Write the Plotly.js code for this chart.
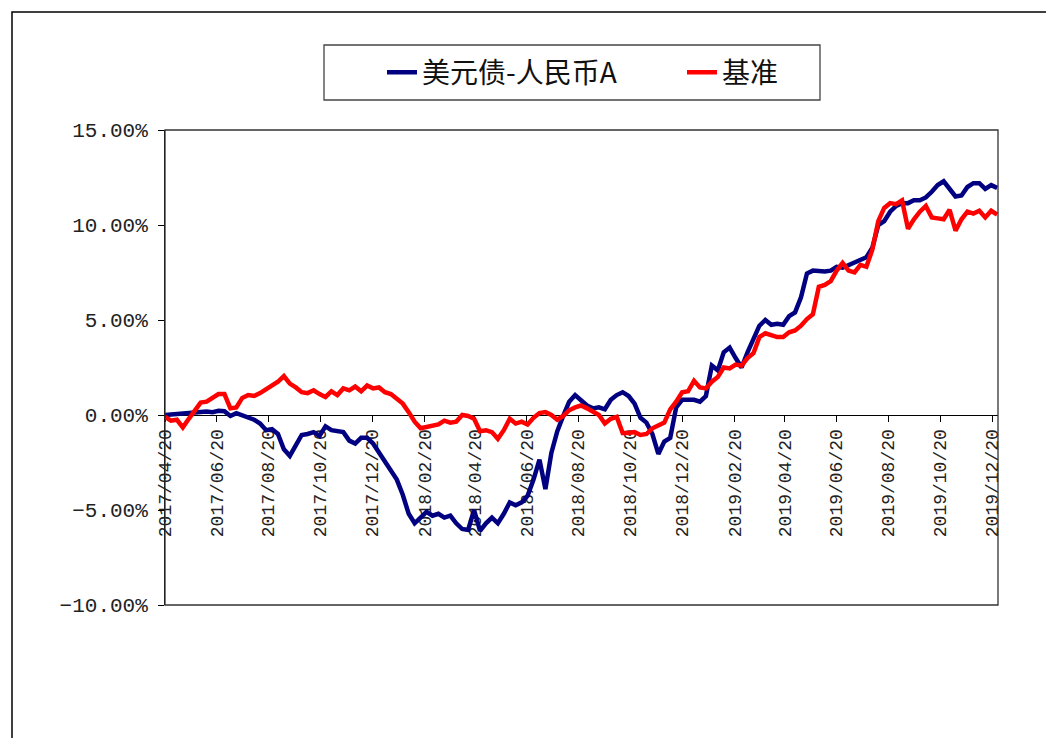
<!DOCTYPE html>
<html>
<head>
<meta charset="utf-8">
<script src="https://cdn.plot.ly/plotly-3.0.1.min.js"></script>
<style>
html, body { margin: 0; padding: 0; background: #ffffff; }
#chart { width: 1046px; height: 738px; }
</style>
</head>
<body>
<div id="chart"></div>
<script>
// Weekly observation dates
const dates = [
  '2017-04-20','2017-04-27','2017-05-04','2017-05-11','2017-05-18','2017-05-25','2017-06-01','2017-06-08','2017-06-15','2017-06-22',
  '2017-06-29','2017-07-06','2017-07-13','2017-07-20','2017-07-27','2017-08-03','2017-08-10','2017-08-17','2017-08-24','2017-08-31',
  '2017-09-07','2017-09-14','2017-09-21','2017-09-28','2017-10-05','2017-10-12','2017-10-19','2017-10-26','2017-11-02','2017-11-09',
  '2017-11-16','2017-11-23','2017-11-30','2017-12-07','2017-12-14','2017-12-21','2017-12-28','2018-01-04','2018-01-11','2018-01-18',
  '2018-01-25','2018-02-01','2018-02-08','2018-02-15','2018-02-22','2018-03-01','2018-03-08','2018-03-15','2018-03-22','2018-03-29',
  '2018-04-05','2018-04-12','2018-04-19','2018-04-26','2018-05-03','2018-05-10','2018-05-17','2018-05-24','2018-05-31','2018-06-07',
  '2018-06-14','2018-06-21','2018-06-28','2018-07-05','2018-07-12','2018-07-19','2018-07-26','2018-08-02','2018-08-09','2018-08-16',
  '2018-08-23','2018-08-30','2018-09-06','2018-09-13','2018-09-20','2018-09-27','2018-10-04','2018-10-11','2018-10-18','2018-10-25',
  '2018-11-01','2018-11-08','2018-11-15','2018-11-22','2018-11-29','2018-12-06','2018-12-13','2018-12-20','2018-12-27','2019-01-03',
  '2019-01-10','2019-01-17','2019-01-24','2019-01-31','2019-02-07','2019-02-14','2019-02-21','2019-02-28','2019-03-07','2019-03-14',
  '2019-03-21','2019-03-28','2019-04-04','2019-04-11','2019-04-18','2019-04-25','2019-05-02','2019-05-09','2019-05-16','2019-05-23',
  '2019-05-30','2019-06-06','2019-06-13','2019-06-20','2019-06-27','2019-07-04','2019-07-11','2019-07-18','2019-07-25','2019-08-01',
  '2019-08-08','2019-08-15','2019-08-22','2019-08-29','2019-09-05','2019-09-12','2019-09-19','2019-09-26','2019-10-03','2019-10-10',
  '2019-10-17','2019-10-24','2019-10-31','2019-11-07','2019-11-14','2019-11-21','2019-11-28','2019-12-05','2019-12-12','2019-12-19',
  '2019-12-26'
];

// 美元债-人民币A cumulative return (%)
const usdBondCny = [
  0, 0.03, 0.07, 0.1, 0.12, 0.16, 0.19, 0.18, 0.15, 0.22,
  0.2, -0.05, 0.1, -0.03, -0.12, -0.25, -0.45, -0.8, -0.75, -1.0,
  -1.8, -2.15, -1.6, -1.05, -1.0, -0.9, -1.1, -0.6, -0.8, -0.85,
  -0.9, -1.35, -1.5, -1.2, -1.2, -1.5, -2.0, -2.45, -2.9, -3.4,
  -4.2, -5.2, -5.7, -5.4, -5.1, -5.3, -5.2, -5.4, -5.3, -5.7,
  -6.0, -6.05, -5.0, -6.1, -5.7, -5.4, -5.7, -5.2, -4.6, -4.75,
  -4.6, -4.25, -3.4, -2.35, -3.9, -2.0, -0.85, -0.05, 0.7, 1.05,
  0.75, 0.5, 0.35, 0.4, 0.3, 0.8, 1.05, 1.2, 1.0, 0.6,
  -0.15, -0.4, -1.0, -2.05, -1.4, -1.2, 0.4, 0.8, 0.8, 0.8,
  0.7, 1.0, 2.6, 2.35, 3.3, 3.55, 3.0, 2.5, 3.3, 4.0,
  4.7, 5.0, 4.75, 4.8, 4.75, 5.2, 5.4, 6.2, 7.45, 7.6,
  7.55, 7.55, 7.6, 7.8, 7.75, 7.9, 8.0, 8.15, 8.3, 8.8,
  10.0, 10.2, 10.7, 11.0, 11.15, 11.15, 11.3, 11.3, 11.45, 11.75,
  12.1, 12.3, 11.9, 11.5, 11.55, 12.0, 12.2, 12.2, 11.9, 12.1,
  11.95
];

// 基准 cumulative return (%)
const benchmark = [
  -0.1, -0.3, -0.25, -0.65, -0.2, 0.2, 0.65, 0.7, 0.9, 1.1,
  1.1, 0.35, 0.4, 0.9, 1.05, 1.0, 1.15, 1.35, 1.6, 1.75,
  2.05, 1.65, 1.45, 1.2, 1.15, 1.3, 1.1, 0.95, 1.25, 1.05,
  1.4, 1.3, 1.5, 1.25, 1.55, 1.4, 1.45, 1.2, 1.1, 0.85,
  0.6, 0.15, -0.35, -0.7, -0.65, -0.55, -0.5, -0.3, -0.4, -0.35,
  0.0, -0.05, -0.2, -0.85, -0.8, -0.9, -1.25, -0.8, -0.2, -0.45,
  -0.35, -0.5, -0.15, 0.1, 0.15, 0.0, -0.25, -0.05, 0.25, 0.4,
  0.5, 0.35, 0.15, 0.0, -0.45, -0.2, -0.1, -0.95, -0.95, -0.9,
  -1.05, -1.0, -0.7, -0.55, -0.4, 0.3, 0.7, 1.2, 1.25, 1.8,
  1.45, 1.4, 1.75, 2.0, 2.5, 2.45, 2.65, 2.6, 3.0, 3.25,
  4.1, 4.3, 4.2, 4.1, 4.1, 4.35, 4.45, 4.7, 5.05, 5.3,
  6.75, 6.85, 7.05, 7.6, 8.0, 7.6, 7.5, 7.9, 7.8, 8.7,
  10.2, 10.9, 11.15, 11.1, 11.3, 9.8, 10.3, 10.7, 11.0, 10.4,
  10.35, 10.3, 10.8, 9.7, 10.3, 10.7, 10.6, 10.75, 10.4, 10.75,
  10.55
];

const seriesNames = ['美元债-人民币A', '基准'];

const xTickDates = [
  '2017-04-20','2017-06-20','2017-08-20','2017-10-20','2017-12-20',
  '2018-02-20','2018-04-20','2018-06-20','2018-08-20','2018-10-20','2018-12-20',
  '2019-02-20','2019-04-20','2019-06-20','2019-08-20','2019-10-20','2019-12-20'
];
const xTickLabels = [
  '2017/04/20','2017/06/20','2017/08/20','2017/10/20','2017/12/20',
  '2018/02/20','2018/04/20','2018/06/20','2018/08/20','2018/10/20','2018/12/20',
  '2019/02/20','2019/04/20','2019/06/20','2019/08/20','2019/10/20','2019/12/20'
];

const traces = [
  {
    type: 'scatter', mode: 'lines', name: seriesNames[0],
    x: dates, y: usdBondCny,
    line: { color: '#000080', width: 4.5 }
  },
  {
    type: 'scatter', mode: 'lines', name: seriesNames[1],
    x: dates, y: benchmark,
    line: { color: '#ff0000', width: 4.5 }
  }
];

const layout = {
  width: 1046,
  height: 738,
  margin: { l: 165, r: 48, t: 130, b: 133, pad: 0, autoexpand: false },
  paper_bgcolor: '#ffffff',
  plot_bgcolor: '#ffffff',
  showlegend: true,
  legend: {
    orientation: 'h',
    x: 0.2605, xanchor: 'left',
    y: 1.121, yanchor: 'middle',
    bgcolor: 'rgba(0,0,0,0)',
    borderwidth: 0,
    font: { family: 'Noto Sans CJK SC', size: 28, color: '#111111' },
    entrywidth: 255,
    entrywidthmode: 'pixels'
  },
  xaxis: {
    type: 'date',
    range: ['2017-04-20', '2019-12-27'],
    anchor: 'free',
    position: 0.4,
    showline: true, linecolor: '#000000', linewidth: 1,
    ticks: 'outside', ticklen: 6, tickcolor: '#000000',
    tickmode: 'array', tickvals: xTickDates, ticktext: xTickLabels,
    tickangle: -90,
    tickfont: { family: 'Liberation Mono', size: 18, color: '#222222' },
    showgrid: false, zeroline: false,
    automargin: false,
    layer: 'below traces'
  },
  yaxis: {
    range: [-10, 15],
    tick0: 0, dtick: 5,
    tickformat: '.2f', ticksuffix: '%',
    showline: true, linecolor: '#000000', linewidth: 1,
    ticks: 'outside', ticklen: 6, tickcolor: '#000000',
    ticklabelstandoff: 6,
    tickfont: { family: 'Liberation Mono', size: 21, color: '#222222' },
    showgrid: false, zeroline: false,
    automargin: false
  },
  shapes: [
    { type: 'rect', xref: 'paper', yref: 'paper', x0: 0, x1: 1, y0: 0, y1: 1,
      line: { color: '#333333', width: 1.3 } },
    { type: 'rect', xref: 'paper', yref: 'paper', x0: -0.18367, x1: 1.08, y0: -0.33, y1: 1.24842,
      line: { color: '#000000', width: 1.5 } },
    { type: 'rect', xref: 'paper', yref: 'paper', x0: 0.19088, x1: 0.78631, y0: 1.06316, y1: 1.17895,
      line: { color: '#444444', width: 1.3 } }
  ]
};

Plotly.newPlot('chart', traces, layout, { staticPlot: true });
</script>
</body>
</html>
